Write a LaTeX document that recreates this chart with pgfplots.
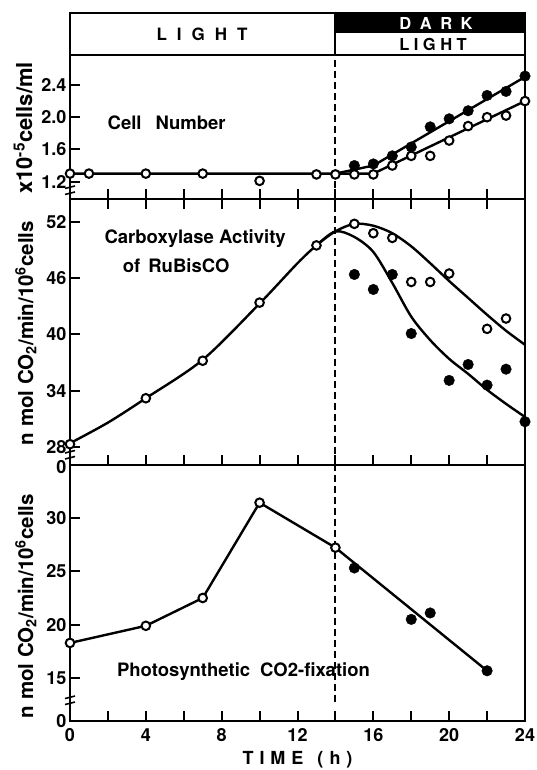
\documentclass[border=0pt]{standalone}
\usepackage{fontspec}
\setmainfont{TeX Gyre Heros}
\usepackage{pgfplots}
\pgfplotsset{compat=1.18}
\newcommand{\tf}{\fontsize{18}{21}\selectfont\bfseries}
\newcommand{\lf}{\fontsize{20.5}{24}\selectfont\bfseries}
\newcommand{\af}{\fontsize{18.5}{22}\selectfont\bfseries}
\tikzset{dsh/.style={line width=2pt, dash pattern=on 7pt off 4pt}}
\pgfplotsset{
  panel/.style={
    scale only axis, width=455pt, xmin=0, xmax=24, anchor=south west,
    axis line style={line width=2.2pt},
    tick style={line width=2pt, black},
    major tick length=10pt,
    xtick={0,2,...,24},
    ytick pos=left,
    tick label style={font=\tf},
    /pgf/number format/assume math mode=true,
    clip=false,
    ylabel style={font=\lf, rotate=0, anchor=center},
  },
  openmk/.style={only marks, mark=*, mark size=4.3pt, mark options={fill=white, draw=black, line width=2pt}},
  fillmk/.style={only marks, mark=*, mark size=5.3pt, mark options={fill=black, draw=black}},
  crv/.style={no marks, line width=2.4pt, black},
}
\begin{document}
\begin{tikzpicture}
\useasboundingbox (0pt,0pt) rectangle (536pt,770pt);

% header
\fill[black] (335pt,737pt) rectangle (525pt,757pt);
\draw[line width=2.2pt] (70pt,715pt) rectangle (525pt,757pt);
\draw[line width=2.2pt] (335pt,715pt) -- (335pt,757pt);
\node[font=\fontsize{17}{19}\selectfont\bfseries] at (202pt,736pt) {L\hspace{10pt}I\hspace{10pt}G\hspace{10pt}H\hspace{10pt}T};
\node[font=\fontsize{16.5}{18}\selectfont\bfseries, white] at (436pt,746.5pt) {D\hspace{8.5pt}A\hspace{8.5pt}R\hspace{8.5pt}K};
\node[font=\fontsize{16.5}{18}\selectfont\bfseries] at (433pt,726pt) {L\hspace{4.5pt}I\hspace{4.5pt}G\hspace{4.5pt}H\hspace{4.5pt}T};

% ---------- panel 1: cell number
\begin{axis}[panel, at={(70pt,571pt)}, height=144pt,
  ymin=0.985, ymax=2.772,
  ytick={1.2,1.6,2.0,2.4}, yticklabels={1.2,1.6,2.0,2.4},
  xtick pos=left, xticklabels={},
  ylabel={x10\textsuperscript{-5}cells/ml},
  ylabel style={at={(axis description cs:-0.103,0.493)}, rotate=0, font=\fontsize{22}{24}\selectfont\bfseries},
]
\addplot[crv] coordinates {(0,1.30) (16,1.30) (24,2.20)};
\addplot[crv] coordinates {(14,1.30) (16,1.40) (24,2.50)};
\addplot[openmk] coordinates {(0,1.30) (1,1.30) (4,1.30) (7,1.30) (10,1.21) (13,1.29) (14,1.29) (15,1.29) (16,1.29) (17,1.40) (18,1.52) (19,1.52) (20,1.71) (21,1.89) (22,2.00) (23,2.02) (24,2.20)};
\addplot[fillmk] coordinates {(15,1.40) (16,1.42) (17,1.52) (18,1.63) (19,1.88) (20,1.98) (21,2.08) (22,2.27) (23,2.32) (24,2.51)};
\draw[dsh] (axis cs:14,0.985) -- (axis cs:14,2.72);
\node[font=\af, anchor=west] at (axis cs:1.8,1.93) {Cell\hspace{14pt}Number};
\fill[white] ([xshift=-4pt]axis cs:0,1.097) ++(0,-2.5pt) rectangle ++(8pt,5pt);
\draw[line width=1.6pt] ([xshift=-5pt,yshift=-4.5pt]axis cs:0,1.097) -- ++(10pt,2.5pt);
\draw[line width=1.6pt] ([xshift=-5pt,yshift=1.5pt]axis cs:0,1.097) -- ++(10pt,2.5pt);
\end{axis}

% ---------- panel 2: carboxylase activity
\begin{axis}[panel, at={(70pt,305pt)}, height=266pt,
  ymin=26.08, ymax=54.45,
  ytick={28,34,40,46,52},
  extra y ticks={26.08}, extra y tick labels={0},
  extra y tick style={major tick length=0pt, yticklabel style={yshift=-2pt}},
  xtick pos=both, xticklabels={},
  ylabel={n mol CO\textsubscript{2}/min/10\textsuperscript{6}cells},
  ylabel style={at={(axis description cs:-0.097,0.496)}, rotate=0},
]
\addplot[crv, smooth] coordinates {(0,28.4) (2,30.6) (4,33.2) (7,37.3) (10,43.3) (12,47.6) (13,49.5) (14,51.0) (15,51.8) (16,51.6) (17,50.8) (18,49.4) (19,47.6) (20,45.7) (21,43.9) (22,42.1) (23,40.4) (24,38.9)};
\addplot[crv, smooth] coordinates {(13,49.5) (14,51.0) (15,50.4) (16,48.8) (17,45.5) (18,41.9) (19,39.4) (20,37.4) (21,35.8) (22,34.1) (23,32.6) (24,31.2)};
\addplot[openmk] coordinates {(0,28.3) (4,33.2) (7,37.2) (10,43.4) (13,49.5) (15,51.8) (16,50.8) (17,50.3) (18,45.6) (19,45.6) (20,46.5) (22,40.6) (23,41.7)};
\addplot[fillmk] coordinates {(15,46.4) (16,44.8) (17,46.4) (18,40.1) (20,35.1) (21,36.8) (22,34.6) (23,36.3) (24,30.7)};
\draw[dsh] (axis cs:14,26.08) -- (axis cs:14,54.45);
\node[font=\af] at (axis cs:6.6,50.2) {Carboxylase Activity};
\node[font=\af] at (axis cs:5.6,47.3) {of\hspace{8pt}RuBisCO};
\fill[white] ([xshift=-4pt]axis cs:0,27.2) ++(0,-2.5pt) rectangle ++(8pt,5pt);
\draw[line width=1.6pt] ([xshift=-5pt,yshift=-4.5pt]axis cs:0,27.2) -- ++(10pt,2.5pt);
\draw[line width=1.6pt] ([xshift=-5pt,yshift=1.5pt]axis cs:0,27.2) -- ++(10pt,2.5pt);
\end{axis}

% ---------- panel 3: photosynthetic CO2 fixation
\begin{axis}[panel, at={(70pt,49pt)}, height=256pt,
  ymin=11.01, ymax=34.92,
  ytick={15,20,25,30},
  extra y ticks={11.01}, extra y tick labels={0},
  extra y tick style={major tick length=0pt},
  xtick pos=left,
  xticklabels={0,,4,,8,,12,,16,,20,,24},
  xticklabel style={yshift=-4pt},
  xlabel={T\hspace{6pt}I\hspace{6pt}M\hspace{6pt}E\hspace{14pt}(\hspace{6pt}h\hspace{6pt})},
  xlabel style={font=\tf, at={(axis description cs:0.5,0)}, anchor=center, yshift=-39pt},
  ylabel={n mol CO\textsubscript{2}/min/10\textsuperscript{6}cells},
  ylabel style={at={(axis description cs:-0.097,0.449)}, rotate=0},
]
\addplot[crv] coordinates {(0,18.3) (4,19.9) (7,22.5) (10,31.4) (14,27.2) (22,15.7)};
\addplot[openmk] coordinates {(0,18.3) (4,19.9) (7,22.5) (10,31.4) (14,27.2)};
\addplot[fillmk] coordinates {(15,25.3) (18,20.5) (19,21.1) (22,15.7)};
\draw[dsh] (axis cs:14,12.8) -- (axis cs:14,34.92);
\node[font=\af] at (axis cs:9.15,15.6) {Photosynthetic\hspace{10pt}CO2-fixation};
\fill[white] ([xshift=-4pt]axis cs:0,12.97) ++(0,-2.5pt) rectangle ++(8pt,5pt);
\draw[line width=1.6pt] ([xshift=-5pt,yshift=-4.5pt]axis cs:0,12.97) -- ++(10pt,2.5pt);
\draw[line width=1.6pt] ([xshift=-5pt,yshift=1.5pt]axis cs:0,12.97) -- ++(10pt,2.5pt);
\end{axis}
\end{tikzpicture}
\end{document}
